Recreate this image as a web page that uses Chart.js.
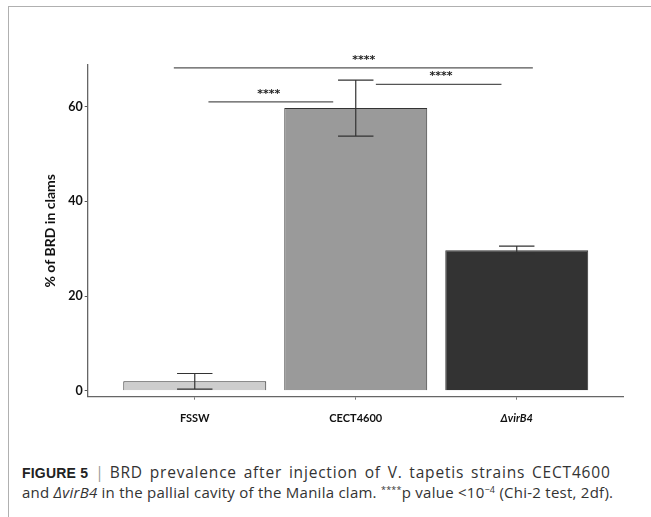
<!DOCTYPE html>
<html>
<head>
<meta charset="utf-8">
<script src="https://cdn.jsdelivr.net/npm/chart.js@4.4.1/dist/chart.umd.min.js"></script>
<style>
  html, body { margin: 0; padding: 0; background: #fff; }
  body { width: 651px; height: 517px; position: relative; overflow: hidden; }
  #frame { position: absolute; left: 8px; top: 6px; width: 660px; height: 530px;
           border-top: 1px solid #b0b0b0; border-left: 1px solid #b0b0b0; }
  #wrap { position: absolute; left: 0; top: 0; width: 651px; height: 440px; }
  #caption { position: absolute; left: 22px; top: 463px; width: 629px;
             font-family: "Open Sans", "Liberation Sans", sans-serif; font-size: 15px;
             line-height: 19px; color: #333; white-space: nowrap; }
  #caption .l1 { font-size: 15.5px; letter-spacing: 0.8px; word-spacing: 2px; }
  #caption .l2 { letter-spacing: 0.25px; }
  #caption b { font-weight: bold; color: #222; font-family: "Liberation Sans", sans-serif; font-size: 14px; letter-spacing: 0.2px; word-spacing: 0; }
  #caption .bar { color: #999; margin: 0 6px 0 7px; letter-spacing: 0; }
  #caption sup { font-size: 9px; vertical-align: 5px; line-height: 0; }
</style>
</head>
<body>
<div id="frame"></div>
<div id="wrap"><canvas id="c" width="651" height="440"></canvas></div>
<div id="caption">
  <div class="l1"><b>FIGURE 5</b><span class="bar">|</span>BRD prevalence after injection of V. tapetis strains CECT4600</div>
  <div class="l2">and <i>ΔvirB4</i> in the pallial cavity of the Manila clam. <sup>****</sup>p value &lt;10<sup>−4</sup> (Chi-2 test, 2df).</div>
</div>
<script>
// ---- data ----
const categories = ['FSSW', 'CECT4600', 'ΔvirB4'];
const categoryPos = [1, 2, 3];
const meanValues = [2.0, 59.7, 29.7];
const errLow = [0.35, 53.8, 28.9];
const errHigh = [3.65, 65.6, 30.55];
const barColors = ['#cdcdcd', '#9a9a9a', '#333333'];
const yTickValues = [0, 20, 40, 60];
// significance brackets: start, end (x units), height (y units), label x
const sigStart = [0.87, 1.085, 2.125];
const sigEnd = [3.10, 1.86, 2.905];
const sigLevel = [68.2, 61.0, 64.7];
const sigLabelX = [2.05, 1.46, 2.53];
const sigLabels = ['****', '****', '****'];

const errorBarPlugin = {
  id: 'errorBars',
  afterDatasetsDraw(chart) {
    const {ctx, scales: {x, y}} = chart;
    ctx.save();
    ctx.strokeStyle = '#333';
    ctx.lineWidth = 1.2;
    for (let i = 0; i < categoryPos.length; i++) {
      const px = x.getPixelForValue(categoryPos[i]);
      const half = x.getPixelForValue(categoryPos[i] + 0.11) - px;
      const yl = y.getPixelForValue(errLow[i]);
      const yh = y.getPixelForValue(errHigh[i]);
      ctx.beginPath();
      ctx.moveTo(px, yl); ctx.lineTo(px, yh);
      ctx.moveTo(px - half, yl); ctx.lineTo(px + half, yl);
      ctx.moveTo(px - half, yh); ctx.lineTo(px + half, yh);
      ctx.stroke();
    }
    ctx.restore();
  }
};

const sigPlugin = {
  id: 'sig',
  afterDraw(chart) {
    const {ctx, scales: {x, y}} = chart;
    ctx.save();
    ctx.strokeStyle = '#555';
    ctx.lineWidth = 1.2;
    ctx.fillStyle = '#222';
    ctx.font = 'bold 11px "DejaVu Sans"';
    ctx.textAlign = 'center';
    ctx.textBaseline = 'alphabetic';
    for (let i = 0; i < sigStart.length; i++) {
      const yy = y.getPixelForValue(sigLevel[i]);
      ctx.beginPath();
      ctx.moveTo(x.getPixelForValue(sigStart[i]), yy);
      ctx.lineTo(x.getPixelForValue(sigEnd[i]), yy);
      ctx.stroke();
      ctx.fillText(sigLabels[i], x.getPixelForValue(sigLabelX[i]), yy - 5);
    }
    ctx.restore();
  }
};

new Chart(document.getElementById('c'), {
  type: 'bar',
  data: {
    datasets: [{
      data: categoryPos.map((p, i) => ({x: p, y: meanValues[i]})),
      backgroundColor: barColors,
      borderColor: '#333',
      borderWidth: 1,
      barPercentage: 0.888,
      categoryPercentage: 1.0
    }]
  },
  options: {
    responsive: false,
    animation: false,
    layout: { padding: { top: 65, right: 28, left: 0, bottom: 0 } },
    plugins: { legend: { display: false }, tooltip: { enabled: false } },
    scales: {
      x: {
        type: 'linear',
        offset: false,
        min: 0.335,
        max: 3.66,
        afterBuildTicks: (s) => { s.ticks = categoryPos.map(v => ({value: v})); },
        afterFit: (s) => { s.height = 43.3; },
        grid: { display: true, offset: false, drawOnChartArea: false, tickLength: 3, tickColor: '#777', tickWidth: 1 },
        border: { display: true, color: '#666', width: 1.3 },
        ticks: {
          padding: 12,
          color: '#111',
          callback: (v) => categories[categoryPos.indexOf(v)],
          font: (c) => ({ family: 'Lato', weight: 'bold', size: 11,
                          style: c.index === 2 ? 'italic' : 'normal' })
        }
      },
      y: {
        min: -1.25,
        max: 68.8,
        afterBuildTicks: (s) => { s.ticks = yTickValues.map(v => ({value: v})); },
        afterFit: (s) => { s.width = 87.7; },
        grid: { display: true, drawOnChartArea: false, tickLength: 3, tickColor: '#555', tickWidth: 1 },
        border: { display: true, color: '#666', width: 1.3 },
        ticks: {
          padding: 2,
          color: '#111',
          font: { family: 'Lato', weight: 'bold', size: 12.5 }
        },
        title: {
          display: true,
          text: '% of BRD in clams',
          color: '#111',
          font: { family: 'Lato', weight: 'bold', size: 14 },
          padding: { top: 42, bottom: 0 }
        }
      }
    }
  },
  plugins: [errorBarPlugin, sigPlugin]
});
</script>
</body>
</html>
